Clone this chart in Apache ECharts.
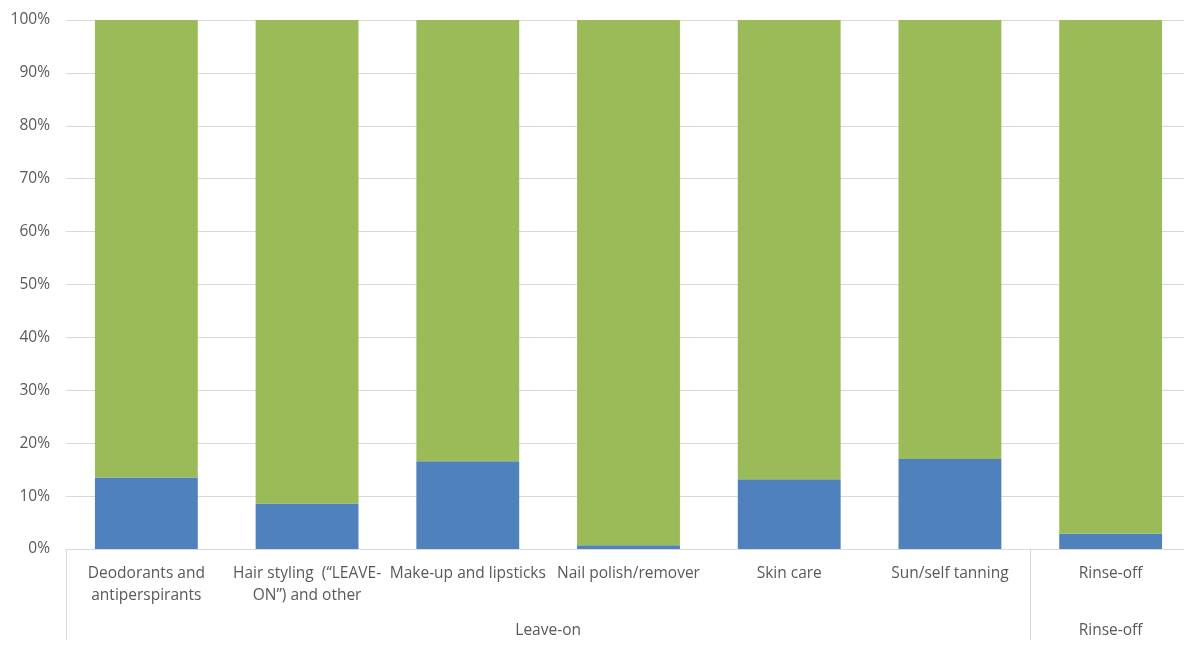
<!DOCTYPE html>
<html>
<head>
<meta charset="utf-8">
<script src="https://cdn.jsdelivr.net/npm/echarts@6/dist/echarts.min.js"></script>
<style>
html,body{margin:0;padding:0;background:#fff;overflow:hidden;}
#chart{width:1200px;height:646px;}
</style>
</head>
<body>
<div id="chart"></div>
<script>
var categories = [
  'Deodorants and\nantiperspirants',
  'Hair styling  (\u201cLEAVE-\nON\u201d) and other',
  'Make-up and lipsticks',
  'Nail polish/remover',
  'Skin care',
  'Sun/self tanning',
  'Rinse-off'
];
var groups = ['Leave-on', 'Rinse-off'];
var groupBounds = [0, 6, 7];
var groupCenters = [3, 6.5];
var seriesNames = ['Series A', 'Series B'];
var valuesA = [13.5, 8.6, 16.6, 0.7, 13.2, 17.0, 2.9];
var valuesB = [86.5, 91.4, 83.4, 99.3, 86.8, 83.0, 97.1];
var yTicks = [0, 10, 20, 30, 40, 50, 60, 70, 80, 90, 100];

var textColor = '#595959';
var lineColor = '#d9d9d9';
var font = 'Open Sans';

var chart = echarts.init(document.getElementById('chart'));
chart.setOption({
  animation: false,
  grid: {left: 66, top: 20, bottom: 97, width: 1125, containLabel: false},
  xAxis: [
    {
      type: 'category',
      data: categories,
      offset: 0,
      axisLine: {show: true, lineStyle: {color: lineColor, width: 1}},
      axisTick: {show: false},
      axisLabel: {color: textColor, fontFamily: font, fontSize: 15.5, lineHeight: 22, margin: 14, interval: 0}
    },
    {
      type: 'value',
      position: 'bottom',
      offset: 0,
      min: 0,
      max: 7,
      axisLine: {show: false},
      splitLine: {show: false},
      axisTick: {show: true, customValues: groupBounds, length: 91, lineStyle: {color: lineColor}},
      axisLabel: {
        show: true,
        customValues: groupCenters,
        color: textColor, fontFamily: font, fontSize: 15.5, margin: 74,
        formatter: function (v) { var i = groupCenters.indexOf(v); return i >= 0 ? groups[i] : ''; }
      }
    }
  ],
  yAxis: {
    type: 'value',
    min: yTicks[0],
    max: yTicks[yTicks.length - 1],
    interval: 10,
    axisLine: {show: false},
    axisTick: {show: false},
    splitLine: {lineStyle: {color: lineColor, width: 1}},
    axisLabel: {color: textColor, fontFamily: font, fontSize: 15.5, margin: 16, formatter: '{value}%'}
  },
  series: [
    {name: seriesNames[0], type: 'bar', stack: 's', data: valuesA, barCategoryGap: '36%', itemStyle: {color: '#4F81BD'}},
    {name: seriesNames[1], type: 'bar', stack: 's', data: valuesB, barCategoryGap: '36%', itemStyle: {color: '#9BBB59'}}
  ]
});
</script>
</body>
</html>
